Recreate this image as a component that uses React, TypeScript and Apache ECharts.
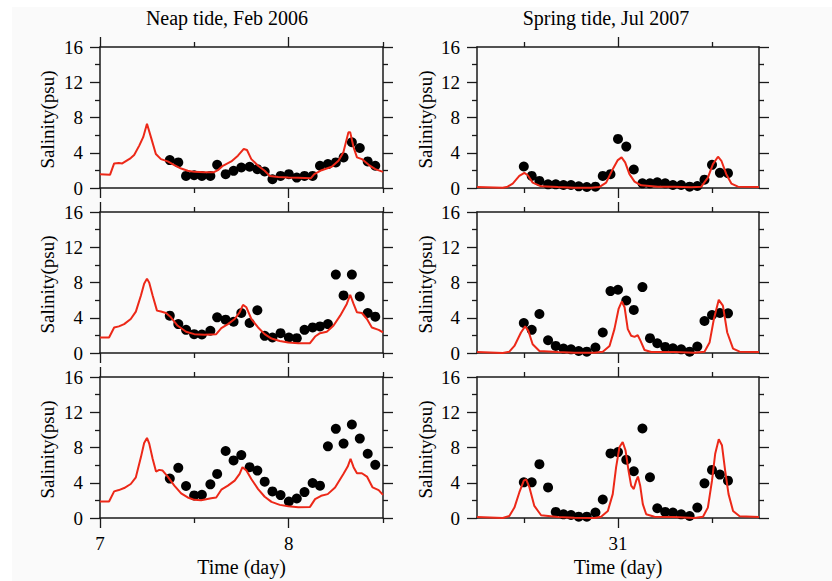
import React, { useEffect, useRef } from "react";
import * as echarts from "echarts";

// ---------- data ----------
const panelTitles = ["Neap tide, Feb 2006", "Spring tide, Jul 2007"];
const yName = "Salinity(psu)";
const xName = "Time (day)";
const yTicks = [0, 4, 8, 12, 16];
const neapLabelTicks = [7, 8];
const neapMinorTicks = [7.5, 8.5];
const springLabelTicks = [31];
const springMinorTicks = [30.5, 31.5];

const neapObsTime = [7.37, 7.415, 7.456, 7.499, 7.54, 7.585, 7.621, 7.666, 7.708, 7.749, 7.793, 7.834, 7.873, 7.914, 7.957, 8.001, 8.043, 8.084, 8.127, 8.166, 8.208, 8.25, 8.291, 8.335, 8.377, 8.419, 8.459];
const springObsTime = [30.499, 30.541, 30.582, 30.628, 30.669, 30.71, 30.75, 30.791, 30.834, 30.88, 30.919, 30.96, 31.0, 31.044, 31.084, 31.13, 31.17, 31.209, 31.251, 31.292, 31.336, 31.381, 31.422, 31.46, 31.5, 31.542, 31.585];

const neapObs1 = [3.17, 2.9, 1.37, 1.45, 1.37, 1.37, 2.63, 1.57, 1.95, 2.33, 2.41, 2.14, 1.87, 0.99, 1.37, 1.57, 1.18, 1.37, 1.37, 2.52, 2.71, 2.9, 3.47, 5.19, 4.54, 3.02, 2.52];
const neapObs2 = [4.24, 3.28, 2.63, 2.14, 2.1, 2.52, 4.05, 3.78, 3.55, 4.54, 3.4, 4.85, 1.95, 1.76, 2.25, 1.76, 1.68, 2.63, 2.9, 3.02, 3.28, 8.9, 6.53, 8.9, 6.41, 4.54, 4.12];
const neapObs3 = [4.47, 5.69, 3.63, 2.56, 2.63, 3.82, 5.0, 7.6, 6.53, 7.14, 5.77, 5.38, 4.12, 3.02, 2.6, 1.87, 2.21, 2.94, 3.97, 3.67, 8.13, 10.12, 8.44, 10.61, 9.01, 7.29, 6.03];

const springObs1 = [2.44, 1.37, 0.8, 0.42, 0.42, 0.34, 0.34, 0.19, 0.11, 0.15, 1.37, 1.57, 5.57, 4.7, 2.1, 0.53, 0.53, 0.65, 0.53, 0.34, 0.34, 0.15, 0.23, 0.95, 2.63, 1.72, 1.68];
const springObs2 = [3.4, 2.63, 4.43, 1.45, 0.8, 0.5, 0.42, 0.23, 0.15, 0.61, 2.33, 7.03, 7.18, 5.96, 4.89, 7.48, 1.68, 1.11, 0.69, 0.53, 0.42, 0.15, 0.73, 3.63, 4.31, 4.54, 4.5];
const springObs3 = [4.05, 4.05, 6.11, 3.47, 0.69, 0.42, 0.34, 0.15, 0.15, 0.61, 2.1, 7.33, 7.48, 6.61, 5.31, 10.16, 4.62, 1.11, 0.69, 0.61, 0.42, 0.23, 1.18, 3.93, 5.46, 4.93, 4.24];

const neapModel1: number[][] = [
  [7.0, 1.57], [7.053, 1.49], [7.075, 2.79], [7.1, 2.83], [7.118, 2.79], [7.163, 3.4], [7.181, 3.74], [7.208, 4.81], [7.229, 5.77], [7.249, 7.29], [7.27, 5.77], [7.296, 3.86], [7.323, 3.28], [7.359, 3.02], [7.394, 2.6], [7.43, 2.21], [7.465, 1.95], [7.5, 1.83], [7.554, 1.79], [7.604, 1.79], [7.625, 2.02], [7.651, 2.52], [7.696, 3.02], [7.731, 3.67], [7.762, 4.43], [7.779, 4.31], [7.802, 3.28], [7.838, 2.52], [7.873, 1.95], [7.9, 1.37], [7.944, 1.26], [7.998, 1.18], [8.051, 1.15], [8.118, 1.11], [8.136, 1.57], [8.175, 2.02], [8.228, 2.41], [8.264, 3.09], [8.29, 4.05], [8.317, 6.34], [8.326, 6.34], [8.344, 4.62], [8.362, 3.47], [8.388, 3.28], [8.424, 2.63], [8.459, 2.14], [8.5, 1.83],
];
const neapModel2: number[][] = [
  [7.0, 1.76], [7.048, 1.76], [7.075, 2.9], [7.1, 3.02], [7.128, 3.28], [7.163, 3.86], [7.19, 4.7], [7.217, 6.53], [7.234, 7.87], [7.249, 8.44], [7.261, 7.98], [7.279, 6.53], [7.302, 4.81], [7.323, 4.7], [7.35, 4.54], [7.376, 4.05], [7.412, 3.09], [7.456, 2.41], [7.5, 2.14], [7.554, 2.06], [7.616, 2.14], [7.643, 2.83], [7.678, 3.28], [7.714, 3.86], [7.74, 4.62], [7.758, 5.46], [7.776, 5.19], [7.802, 3.86], [7.838, 2.9], [7.873, 2.14], [7.909, 1.64], [7.953, 1.37], [7.998, 1.18], [8.051, 1.11], [8.113, 1.11], [8.14, 1.87], [8.166, 2.25], [8.202, 2.41], [8.237, 3.09], [8.273, 4.24], [8.308, 5.57], [8.326, 6.61], [8.344, 5.57], [8.362, 4.62], [8.388, 4.54], [8.415, 3.86], [8.441, 2.9], [8.477, 2.63], [8.5, 2.33],
];
const neapModel3: number[][] = [
  [7.0, 1.87], [7.048, 1.87], [7.075, 3.02], [7.1, 3.17], [7.128, 3.4], [7.163, 3.86], [7.19, 4.62], [7.217, 6.91], [7.234, 8.51], [7.249, 9.09], [7.261, 8.44], [7.279, 6.72], [7.297, 5.27], [7.314, 5.46], [7.332, 5.38], [7.359, 4.7], [7.394, 3.67], [7.43, 2.79], [7.465, 2.33], [7.5, 2.06], [7.536, 2.02], [7.589, 2.25], [7.616, 2.33], [7.643, 3.21], [7.678, 3.67], [7.714, 4.24], [7.74, 5.0], [7.755, 5.77], [7.776, 5.38], [7.802, 4.43], [7.838, 3.28], [7.873, 2.41], [7.909, 1.83], [7.953, 1.49], [7.998, 1.34], [8.051, 1.22], [8.113, 1.26], [8.14, 2.14], [8.172, 2.52], [8.207, 2.71], [8.246, 3.47], [8.29, 5.0], [8.313, 5.84], [8.328, 6.72], [8.344, 5.77], [8.362, 5.08], [8.388, 5.08], [8.415, 4.7], [8.445, 3.47], [8.477, 3.17], [8.5, 2.63],
];

const springModel1: number[][] = [
  [30.25, 0.11], [30.387, 0.04], [30.413, 0.15], [30.44, 0.5], [30.475, 1.37], [30.502, 1.72], [30.52, 1.45], [30.546, 0.61], [30.591, 0.19], [30.68, 0.11], [30.768, 0.04], [30.857, 0.04], [30.9, 0.11], [30.937, 0.61], [30.972, 2.14], [30.999, 3.17], [31.019, 3.47], [31.038, 2.9], [31.061, 1.57], [31.088, 0.73], [31.123, 0.31], [31.212, 0.15], [31.3, 0.15], [31.39, 0.08], [31.443, 0.15], [31.478, 1.18], [31.505, 2.71], [31.532, 3.55], [31.55, 3.09], [31.576, 1.57], [31.603, 0.5], [31.638, 0.15], [31.75, 0.11],
];
const springModel2: number[][] = [
  [30.25, 0.11], [30.387, 0.0], [30.422, 0.15], [30.449, 0.8], [30.484, 2.33], [30.506, 3.02], [30.523, 2.52], [30.546, 0.99], [30.582, 0.23], [30.68, 0.11], [30.768, 0.04], [30.875, 0.04], [30.919, 0.15], [30.955, 0.8], [30.981, 2.71], [31.003, 5.0], [31.02, 5.84], [31.035, 5.19], [31.052, 2.71], [31.07, 1.95], [31.088, 1.83], [31.105, 2.02], [31.12, 1.37], [31.141, 0.34], [31.177, 0.11], [31.3, 0.11], [31.407, 0.04], [31.46, 0.15], [31.487, 1.18], [31.51, 3.86], [31.536, 6.03], [31.558, 5.38], [31.581, 2.33], [31.612, 0.5], [31.647, 0.15], [31.75, 0.11],
];
const springModel3: number[][] = [
  [30.25, 0.11], [30.387, 0.0], [30.422, 0.23], [30.449, 1.18], [30.475, 2.9], [30.499, 4.24], [30.511, 4.39], [30.529, 3.47], [30.555, 1.37], [30.591, 0.31], [30.68, 0.11], [30.768, 0.04], [30.875, 0.0], [30.91, 0.15], [30.946, 0.8], [30.972, 2.71], [30.99, 5.77], [31.008, 8.06], [31.025, 8.63], [31.04, 7.68], [31.056, 5.38], [31.07, 3.67], [31.084, 3.28], [31.097, 4.24], [31.106, 4.7], [31.118, 3.67], [31.132, 1.57], [31.15, 0.42], [31.194, 0.15], [31.3, 0.11], [31.407, 0.0], [31.452, 0.15], [31.478, 1.18], [31.5, 4.24], [31.517, 7.29], [31.536, 8.93], [31.553, 8.25], [31.57, 5.38], [31.588, 2.71], [31.612, 0.8], [31.647, 0.19], [31.75, 0.11],
];

// ---------- layout / style ----------
const FONT = "Liberation Serif";
const AXIS_COLOR = "#1a1a1a";
const RED = "#ec2818";
const PANEL_TOPS = [47, 212, 377];
const PANEL_H = 141;
const COL_LEFT = [100, 477];
const COL_W = [283, 282];

type Panel = {
  col: number;
  row: number;
  model: number[][];
  obsT: number[];
  obsV: number[];
};

const panels: Panel[] = [
  { col: 0, row: 0, model: neapModel1, obsT: neapObsTime, obsV: neapObs1 },
  { col: 1, row: 0, model: springModel1, obsT: springObsTime, obsV: springObs1 },
  { col: 0, row: 1, model: neapModel2, obsT: neapObsTime, obsV: neapObs2 },
  { col: 1, row: 1, model: springModel2, obsT: springObsTime, obsV: springObs2 },
  { col: 0, row: 2, model: neapModel3, obsT: neapObsTime, obsV: neapObs3 },
  { col: 1, row: 2, model: springModel3, obsT: springObsTime, obsV: springObs3 },
];

function buildOption() {
  const grid: any[] = [];
  const xAxis: any[] = [];
  const yAxis: any[] = [];
  const series: any[] = [];
  const lineStyle = { color: AXIS_COLOR, width: 1.5 };
  const tickLine = { color: AXIS_COLOR, width: 1.3 };

  panels.forEach((p, g) => {
    grid.push({
      left: COL_LEFT[p.col],
      top: PANEL_TOPS[p.row],
      width: COL_W[p.col],
      height: PANEL_H,
      containLabel: false,
    });
    const isNeap = p.col === 0;
    const min = isNeap ? 7 : 30.25;
    const max = isNeap ? 8.5 : 31.75;
    const major = isNeap ? neapLabelTicks : springLabelTicks;
    const minor = isNeap ? neapMinorTicks : springMinorTicks;
    const showLabels = p.row === 2;
    const base = {
      type: "value",
      gridIndex: g,
      min,
      max,
      splitLine: { show: false },
    };
    xAxis.push({
      ...base,
      position: "bottom",
      axisLine: { show: true, onZero: false, lineStyle },
      axisTick: { show: true, customValues: major, length: 10, inside: false, lineStyle: tickLine },
      axisLabel: {
        show: showLabels,
        customValues: major,
        margin: 16,
        fontSize: 19,
        color: "#000",
        fontFamily: FONT,
      },
    });
    xAxis.push({
      ...base,
      position: "bottom",
      axisLine: { show: false, onZero: false },
      axisTick: { show: true, customValues: minor, length: 5, inside: false, lineStyle: tickLine },
      axisLabel: { show: false },
    });
    xAxis.push({
      ...base,
      position: "top",
      axisLine: { show: true, onZero: false, lineStyle },
      axisTick: { show: true, customValues: major, length: 10, inside: false, lineStyle: tickLine },
      axisLabel: { show: false },
    });
    xAxis.push({
      ...base,
      position: "top",
      axisLine: { show: false, onZero: false },
      axisTick: { show: true, customValues: minor, length: 5, inside: false, lineStyle: tickLine },
      axisLabel: { show: false },
    });

    const yBase = {
      type: "value",
      gridIndex: g,
      min: yTicks[0],
      max: yTicks[yTicks.length - 1],
      interval: yTicks[1] - yTicks[0],
      splitLine: { show: false },
      minorSplitLine: { show: false },
      axisTick: { show: true, length: 10, inside: false, lineStyle: tickLine },
      minorTick: { show: true, splitNumber: 2, length: 5, lineStyle: tickLine },
    };
    yAxis.push({
      ...yBase,
      position: "left",
      axisLine: { show: true, onZero: false, lineStyle },
      axisLabel: { show: true, margin: 17, fontSize: 19, color: "#000", fontFamily: FONT },
    });
    yAxis.push({
      ...yBase,
      position: "right",
      axisLine: { show: true, onZero: false, lineStyle },
      axisLabel: { show: false },
    });

    series.push({
      type: "scatter",
      xAxisIndex: g * 4,
      yAxisIndex: g * 2,
      data: p.obsT.map((t, i) => [t, p.obsV[i]]),
      symbol: "circle",
      symbolSize: 10,
      itemStyle: { color: "#000", opacity: 1 },
      z: 2,
      silent: true,
    });
    series.push({
      type: "line",
      xAxisIndex: g * 4,
      yAxisIndex: g * 2,
      data: p.model,
      showSymbol: false,
      symbol: "none",
      smooth: false,
      lineStyle: { color: RED, width: 2 },
      z: 3,
      silent: true,
    });
  });

  const textStyle = (txt: string, size: number) => ({
    text: txt,
    fill: "#000",
    fontSize: size,
    fontFamily: FONT,
    align: "center",
    verticalAlign: "middle",
  });

  const graphic: any[] = [
    {
      type: "rect",
      shape: { x: 12, y: 7, width: 820, height: 574 },
      style: { fill: "#fafafa" },
      z: -10,
      silent: true,
    },
    { type: "text", x: 227, y: 18, style: textStyle(panelTitles[0], 20), z: 10 },
    { type: "text", x: 606, y: 18, style: textStyle(panelTitles[1], 20), z: 10 },
    { type: "text", x: 241.5, y: 567, style: textStyle(xName, 20), z: 10 },
    { type: "text", x: 618, y: 567, style: textStyle(xName, 20), z: 10 },
  ];
  const yNameX = [47, 425];
  PANEL_TOPS.forEach((top) => {
    yNameX.forEach((x) => {
      graphic.push({
        type: "text",
        x,
        y: top + PANEL_H / 2 + 2,
        rotation: Math.PI / 2,
        style: textStyle(yName, 19),
        z: 10,
      });
    });
  });

  return {
    animation: false,
    backgroundColor: "#ffffff",
    textStyle: { fontFamily: FONT },
    grid,
    xAxis,
    yAxis,
    series,
    graphic,
  };
}

export default function App() {
  const ref = useRef<HTMLDivElement>(null);
  useEffect(() => {
    document.body.style.margin = "0";
    if (!ref.current) return;
    const chart = echarts.init(ref.current, undefined, { renderer: "svg" });
    chart.setOption(buildOption() as any);
    return () => chart.dispose();
  }, []);
  return (
    <div
      ref={ref}
      style={{ position: "absolute", left: 0, top: 0, width: 832, height: 581 }}
    />
  );
}
